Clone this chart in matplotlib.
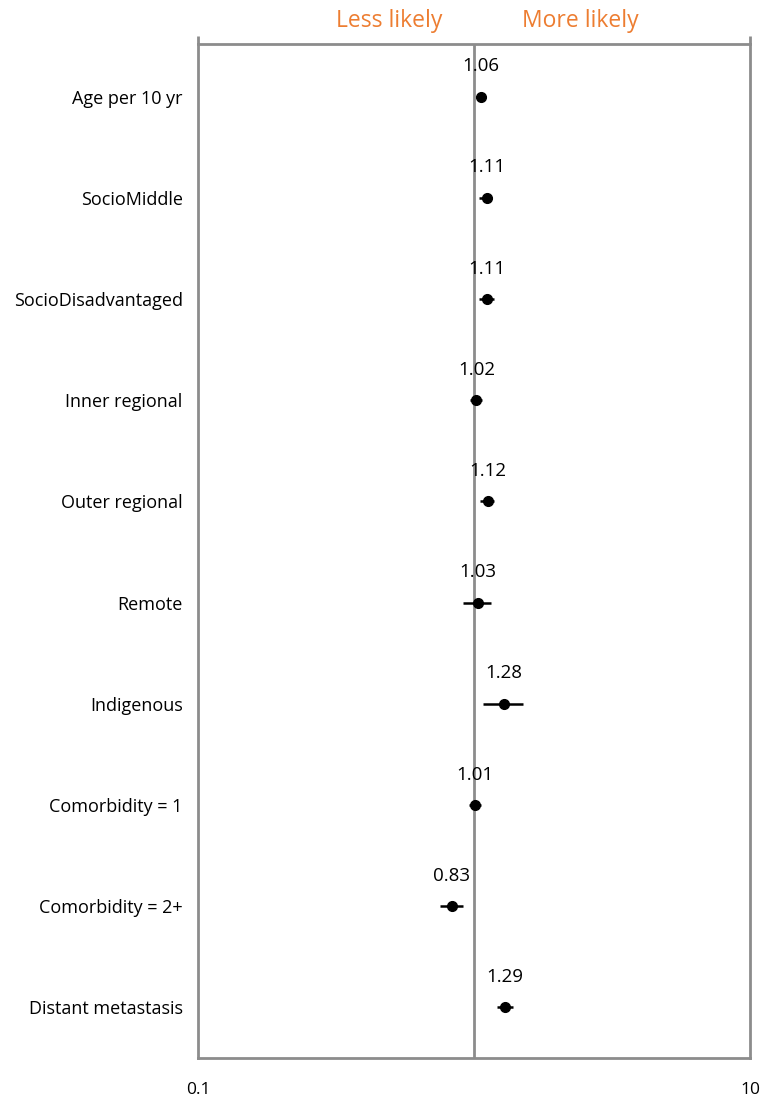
import numpy as np
import matplotlib.pyplot as plt

plt.rcParams['font.family'] = ['Open Sans', 'DejaVu Sans']

# data
labels = ['Age per 10 yr', 'SocioMiddle', 'SocioDisadvantaged', 'Inner regional',
          'Outer regional', 'Remote', 'Indigenous', 'Comorbidity = 1',
          'Comorbidity = 2+', 'Distant metastasis']
odds = [1.06, 1.11, 1.11, 1.02, 1.12, 1.03, 1.28, 1.01, 0.83, 1.29]
lower = [1.05, 1.04, 1.04, 0.97, 1.05, 0.91, 1.08, 0.96, 0.75, 1.21]
upper = [1.07, 1.16, 1.18, 1.07, 1.18, 1.15, 1.50, 1.06, 0.91, 1.38]
xticks = [0.1, 10]
xticklabels = ['0.1', '10']

grey = '#8c8c8c'
orange = '#ED7D31'

fig = plt.figure(figsize=(7.68, 11.02), dpi=100)
ax = fig.add_axes([0.2578, 0.0399, 0.7188, 0.9202])

y = np.arange(1, len(labels) + 1)
odds = np.array(odds)
xerr = [odds - np.array(lower), np.array(upper) - odds]

ax.axvline(1, color=grey, lw=2, zorder=1)
ax.errorbar(odds, y, xerr=xerr, fmt='o', color='black', ms=7, elinewidth=1.8,
            capsize=0, zorder=3)
for xi, yi, v in zip(odds, y, odds):
    ax.text(xi, yi - 0.3, '%.2f' % v, ha='center', va='center', fontsize=13.5)

ax.set_xscale('log')
ax.set_xlim(0.1, 10)
ax.set_ylim(10.5, 0.48)
ax.set_yticks(y)
ax.set_yticklabels(labels, fontsize=13)
ax.tick_params(axis='y', length=0, pad=11)
ax.minorticks_off()
ax.set_xticks(xticks)
ax.set_xticklabels(xticklabels, fontsize=12.5)
ax.tick_params(axis='x', which='both', top=True, bottom=False, labeltop=False,
               labelbottom=True, direction='out', length=6, width=2,
               color=grey, pad=11)
ax.xaxis.set_minor_locator(plt.NullLocator())

for s in ax.spines.values():
    s.set_color(grey)
    s.set_linewidth(2)

fig.text(389 / 768, 1 - 21 / 1102, 'Less likely', color=orange, fontsize=16.5,
         ha='center', va='center')
fig.text(580 / 768, 1 - 21 / 1102, 'More likely', color=orange, fontsize=16.5,
         ha='center', va='center')

fig.savefig('out.png', dpi=100)
